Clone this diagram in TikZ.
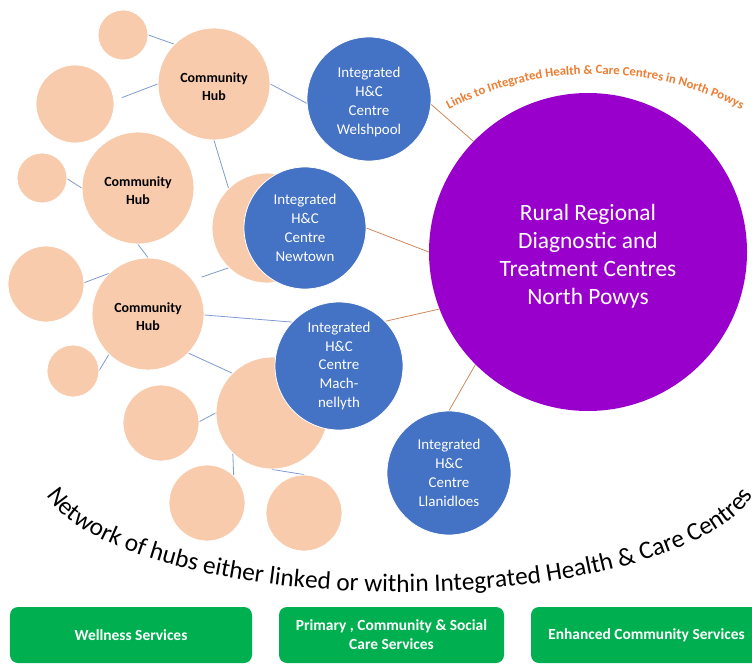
\documentclass[tikz,border=0pt]{standalone}
\usepackage{fontspec}
\setmainfont{Carlito}
\usetikzlibrary{decorations.text,backgrounds}
\definecolor{peach}{HTML}{F8CBAD}
\definecolor{hcblue}{HTML}{4472C4}
\definecolor{rrdpurple}{HTML}{9900CC}
\definecolor{svcgreen}{HTML}{00B050}
\definecolor{linkblue}{HTML}{7F9AD0}
\definecolor{linkorange}{HTML}{CF8A5C}
\definecolor{labelorange}{HTML}{ED7D31}
\newcommand\pxfont[2]{\fontsize{#1}{#2}\selectfont}
\newcommand\tallstrut[1]{\rule{0pt}{#1}}
\begin{document}
\begin{tikzpicture}[x=1bp,y=-1bp,
  hubline/.style={draw=linkblue, line width=0.8bp},
  hcline/.style={draw=linkorange, line width=0.8bp},
  peachball/.style={circle, inner sep=0pt, fill=peach, draw=white, line width=0.8bp, minimum size=#1*2bp},
  hubnode/.style={peachball=56, font=\bfseries\pxfont{14}{18}, align=center, text=black},
  hcnode/.style={circle, inner sep=0pt, fill=hcblue, draw=white, line width=0.8bp, minimum size=#1*2bp, font=\pxfont{15}{19}, align=center, text=white},
  rrdnode/.style={circle, inner sep=0pt, fill=rrdpurple, minimum size=318bp, font=\pxfont{23.5}{28.3}, align=center, text=white},
  svcbox/.style={rectangle, rounded corners=8bp, fill=svcgreen, minimum height=56bp, inner sep=0pt, font=\bfseries\pxfont{15.5}{19}, align=center, text=white}
]
\useasboundingbox (0,0) rectangle (752,664);

% peach community circles
\node[peachball=25] (s1) at (123,35) {};
\node[hubnode] (hubA) at (214,84) {\tallstrut{14.5bp}Community\\Hub};
\node[peachball=39] (c3) at (75,104) {};
\node[hubnode] (hubB) at (138,188) {\tallstrut{14.5bp}Community\\Hub};
\node[peachball=25] (c5) at (42,178) {};
\node[peachball=55] (c6) at (267,228) {};
\node[peachball=38] (c7) at (46,284) {};
\node[hubnode] (hubC) at (148,314) {\tallstrut{14.5bp}Community\\Hub};
\node[peachball=26] (c9) at (73,371) {};
\node[peachball=38] (c10) at (161,423) {};
\node[peachball=56] (c11) at (272,413) {};
\node[peachball=38] (c12) at (207,503) {};
\node[peachball=38] (c13) at (304,513) {};

% integrated H&C centres
\node[hcnode=62] (welsh) at (369,99) {\tallstrut{16.5bp}Integrated\\H\&C\\Centre\\Welshpool};
\node[hcnode=61] (newt) at (305,228) {Integrated\\H\&C\\Centre\\Newtown};
\node[hcnode=64] (mach) at (339,366) {Integrated\\H\&C\\Centre\\Mach-\\nellyth};
\node[hcnode=62] (llan) at (449,473) {Integrated\\H\&C\\Centre\\Llanidloes};

% regional centre
\node[rrdnode] (rrd) at (588,252) {\tallstrut{24.6bp}Rural Regional\\Diagnostic and\\Treatment Centres\\North Powys};

% service boxes
\node[svcbox, minimum width=242bp] (wellness) at (131,635) {Wellness Services};
\node[svcbox, minimum width=225bp] (primary) at (391.5,635) {Primary , Community \& Social\\Care Services};
\node[svcbox, minimum width=231bp] (enhanced) at (646.5,635) {Enhanced Community Services};

\begin{scope}[on background layer]
  \draw[hubline] (s1.0) -- (hubA.135);
  \draw[hubline, shorten <=8bp] (c3.5) -- (hubA.180);
  \draw[hubline] (hubA.0) -- (welsh.184);
  \draw[hubline] (hubA.270) -- (c6.134);
  \draw[hubline] (c5.-2) -- (hubB.180);
  \draw[hubline] (hubB.270) -- (hubC.90);
  \draw[hubline] (c7.2) -- (hubC.134);
  \draw[hubline, shorten <=9bp] (hubC.37) -- (c6.226);
  \draw[hubline] (hubC.-1) -- (mach.137);
  \draw[hubline] (c9.2) -- (hubC.226);
  \draw[hubline] (hubC.316) -- (c11.135);
  \draw[hubline] (c10.2) -- (c11.180);
  \draw[hubline] (c11.226) -- (c12.46);
  \draw[hubline] (c11.270) -- (c13.90);
  \draw[hcline] (welsh.-5) -- (rrd.136);
  \draw[hcline] (newt.0) -- (rrd.180);
  \draw[hcline] (mach.44) -- (rrd.201);
  \draw[hcline] (llan.90) -- (rrd.225);
\end{scope}

% curved labels
\path[decorate, decoration={text along path, text align=center,
  text={|\bfseries\pxfont{12.8}{15}\color{labelorange}|Links to Integrated Health {\&} Care Centres in North Powys}}]
  (595,394) ++(-125:320) arc[start angle=-125, end angle=-55, radius=320];
\path[decorate, decoration={text along path, text align=center,
  text={|\pxfont{25.4}{30}\color{black}|Network of hubs either linked or within Integrated Health {\&} Care Centres}}]
  (400,472) ++(172:360 and 120) arc[start angle=172, end angle=8, x radius=360, y radius=120];
\end{tikzpicture}
\end{document}
